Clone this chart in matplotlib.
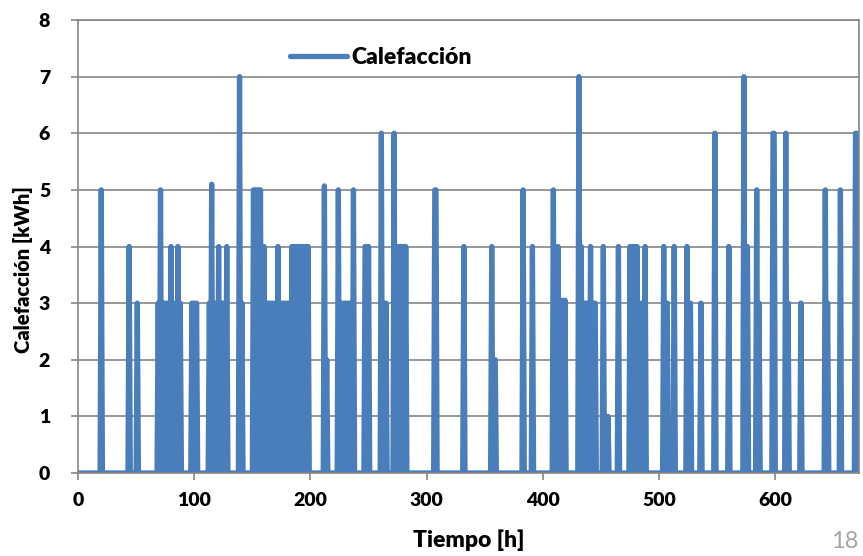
import numpy as np
import matplotlib
matplotlib.use("Agg")
import matplotlib.pyplot as plt

# ---- data (hour, heating energy kWh) ----
total_hours = 672
spike_hours = [
    20, 44, 51,
    69, 71, 73, 75, 77, 80, 82, 84, 86, 88,
    98, 100, 102,
    113, 115, 117, 119, 121, 123, 125, 128,
    139, 141,
    151, 153, 155, 157, 160, 162, 164, 166, 168, 170, 172, 174, 176, 178, 180, 182,
    184, 186, 188, 190, 192, 194, 196, 198,
    212, 214, 224, 226, 228, 230, 232, 234, 237,
    247, 248, 250, 261, 263, 265, 272, 274, 276, 278, 280, 282,
    307, 308, 332, 356, 358, 359, 383, 391,
    409, 411, 413, 415, 417, 419, 431, 433, 435, 437, 439, 441, 443, 445,
    452, 454, 456, 465, 475, 477, 479, 481, 483, 485, 488,
    504, 506, 507, 513, 524, 526, 527, 536, 548, 560, 573, 576,
    584, 586, 598, 599, 609, 611, 622, 643, 645, 656, 669, 670,
]
spike_values = [
    5, 4, 3,
    3, 5, 3, 3, 3, 4, 3, 3, 4, 3,
    3, 3, 3,
    3, 5.1, 3, 3, 4, 3, 3, 4,
    7, 3,
    5, 5, 5, 5, 4, 3, 3, 3, 3, 3, 4, 3, 3, 3, 3, 3,
    4, 4, 4, 4, 4, 4, 4, 4,
    5.07, 2, 5, 3, 3, 3, 3, 3, 5,
    4, 4, 4, 6, 3, 3, 6, 4, 4, 4, 4, 4,
    5, 5, 4, 4, 2, 2, 5, 4,
    5, 3, 4, 3.05, 3.05, 3.05, 7, 4, 3, 3, 3, 4, 3, 3,
    4, 1, 1, 4, 4, 4, 4, 4, 3, 3, 4,
    4, 3, 3, 4, 4, 3, 3, 3, 6, 4, 7, 4,
    5, 3, 6, 6, 6, 3, 3, 5, 3, 5, 6, 6,
]

x_ticks = [0, 100, 200, 300, 400, 500, 600]
y_ticks = [0, 1, 2, 3, 4, 5, 6, 7, 8]

hours = np.arange(total_hours + 1)
heat = np.zeros(total_hours + 1)
heat[np.array(spike_hours)] = spike_values

# ---- figure ----
plt.rcParams['font.family'] = ['Lato', 'DejaVu Sans']
plt.rcParams['font.weight'] = 'heavy'
W, H = 863, 556
fig = plt.figure(figsize=(W / 100, H / 100), dpi=100)
ax = fig.add_axes([78 / W, 1 - 473 / H, (859 - 78) / W, (473 - 20) / H])

line_color = '#4A7EBB'
grid_color = '#868686'

ax.plot(hours, heat, color=line_color, lw=3.8, solid_joinstyle='round',
        solid_capstyle='round', label='Calefacción', zorder=2)

ax.set_xlim(0, total_hours)
ax.set_ylim(0, 8)
ax.set_xticks(x_ticks)
ax.set_yticks(y_ticks)
ax.yaxis.grid(True, color=grid_color, lw=1.2)
ax.set_axisbelow(True)
for s in ax.spines.values():
    s.set_color(grid_color)
    s.set_linewidth(1.2)
    s.set_zorder(3)

ax.tick_params(axis='both', direction='out', color=grid_color, width=1.2,
               length=5, labelsize=14)
ax.tick_params(axis='x', pad=9)
ax.tick_params(axis='y', pad=15)

ax.set_xlabel('Tiempo [h]', fontsize=16.5, fontweight='heavy')
ax.xaxis.set_label_coords(0.5, -0.125)
ax.set_ylabel('Calefacción [kWh]', fontsize=14.5, fontweight='heavy')
ax.yaxis.set_label_coords(-0.058, 0.45)

leg = ax.legend(loc='center left', bbox_to_anchor=(0.271, 0.918), frameon=False,
                borderpad=0, borderaxespad=0, handlelength=2.5,
                handletextpad=0.2, prop={'weight': 'heavy', 'size': 16.5})

fig.text(858 / W, 1 - 541 / H, '18', color='#A6A6A6', fontsize=17,
         fontweight='normal', ha='right', va='center')

fig.savefig('out.png', dpi=100)
